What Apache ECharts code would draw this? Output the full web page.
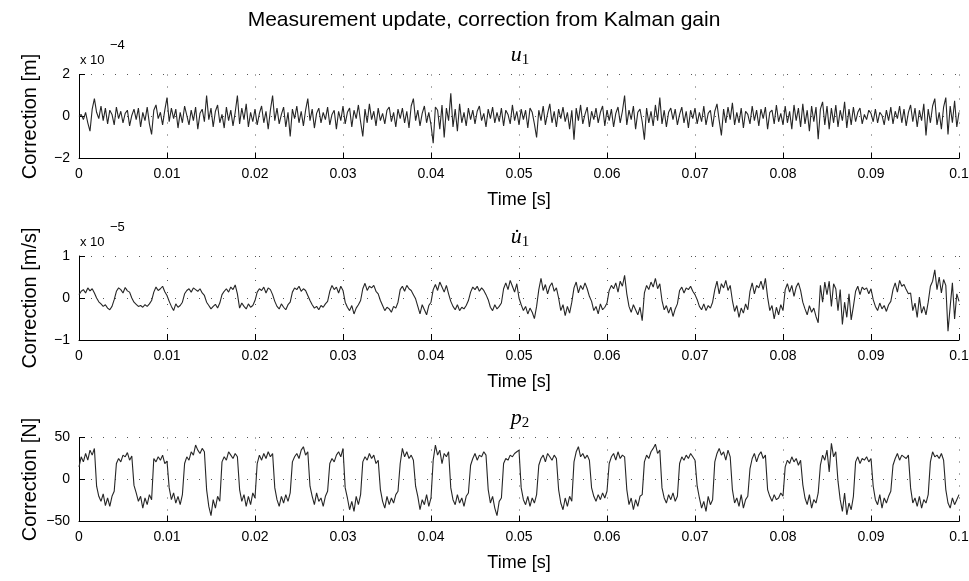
<!DOCTYPE html>
<html><head><meta charset="utf-8">
<script src="https://cdn.jsdelivr.net/npm/echarts/dist/echarts.min.js"></script>
<style>html,body{margin:0;padding:0;background:#fff}#c{width:969px;height:581px}</style>
</head><body><div id="c"></div>
<script>
// sample spacing of the recorded signals [s]
const dt = 0.00025;
const xTickLabels = ['0','0.01','0.02','0.03','0.04','0.05','0.06','0.07','0.08','0.09','0.1'];
const titles = ['Measurement update, correction from Kalman gain'];
const yNames = ['Correction [m]','Correction [m/s]','Correction [N]'];
const exponents = ['\u22124','\u22125',null];

// u1 correction, units of 1e-4 m
const u1 = [
0,0.1,-0.15,0.2,-0.3,-0.7,0.35,0.85,0.2,-0.1,0.5,-0.2,0.4,-0.35,0.3,0.1,-0.4,0.45,-0.1,0.25,
-0.3,0.15,0.3,-0.45,0.05,0.35,-0.15,0.4,-0.5,0.2,-0.2,0.45,-0.35,-0.85,0.3,0.55,-0.1,0.2,-0.4,0.3,
0.9,-0.25,0.4,-0.1,0.35,-0.55,0.2,-0.3,0.5,0.05,-0.4,0.3,-0.2,0.45,-0.6,0.15,0.35,-0.25,1.0,-0.15,
0.4,-0.5,0.25,0.55,-0.3,0.1,-0.55,0.45,-0.2,0.3,-0.45,0.2,1.0,-0.35,0.4,-0.15,0.6,-0.5,0.2,-0.25,
0.35,-0.4,0.15,0.5,-0.3,0.25,-0.6,0.3,1.0,-0.2,0.4,-0.35,0.1,0.45,-0.5,0.2,-0.95,0.35,-0.1,0.5,
-0.3,0.25,-0.45,0.3,0.85,-0.2,0.35,-0.55,0.15,0.4,-0.3,0.2,-0.15,0.45,-0.4,0.1,0.3,-0.6,0.25,-0.2,
0.5,-0.35,0.2,0.4,-0.5,0.3,-0.1,0.55,-0.25,-0.95,0.35,-0.3,0.6,-0.15,0.25,-0.45,0.4,-0.2,0.15,-0.35,
0.3,0.45,-0.25,0.2,-0.5,0.35,-0.1,0.4,-0.3,0.25,-0.55,0.5,0.85,-0.2,0.3,-0.45,0.15,0.5,-0.3,0.2,
-0.4,-1.27,0.45,0.3,-0.6,0.55,-1.0,0.4,-0.2,1.1,-0.5,0.35,-0.7,0.6,-0.3,0.2,-0.45,0.4,-0.15,0.3,
-0.35,0.25,0.5,-0.2,0.15,-0.5,0.35,-0.1,0.45,-0.3,0.2,-0.25,0.4,-0.45,0.3,0.1,-0.35,0.55,-0.2,0.25,
-0.4,0.35,-0.15,0.3,-0.55,0.4,0.2,-0.35,-1.0,0.3,-0.2,0.5,-0.4,0.15,0.6,-0.3,0.25,-0.5,0.35,-0.1,
0.45,-0.25,0.2,-0.6,0.3,-1.1,0.4,-0.2,0.55,-0.35,0.1,0.45,-0.5,0.25,-0.15,0.4,-0.3,0.2,0.5,-0.45,
0.3,-0.2,0.35,-0.5,0.15,0.45,-0.3,0.25,1.0,-0.4,0.3,-0.15,0.5,-0.6,0.2,0.35,-0.25,-1.1,0.4,-0.3,
0.25,-0.45,0.55,-0.2,0.9,-0.35,0.3,-0.5,0.2,0.4,-0.15,0.35,-0.4,0.1,0.45,-0.3,0.25,-0.55,0.3,-0.1,
0.4,-0.35,0.2,-0.25,0.5,-0.4,0.15,0.3,-0.5,0.25,0.6,-0.2,-0.9,0.35,-0.3,0.45,-0.15,0.65,-0.4,0.2,
-0.3,0.4,-0.55,0.25,0.1,-0.35,0.5,-0.2,0.3,-0.45,0.35,-0.1,0.45,-0.6,0.2,0.3,-0.35,0.55,-0.25,0.15,
-0.4,0.5,-0.3,0.25,-0.6,0.55,-0.2,0.4,-0.5,0.6,-0.35,0.3,-0.7,0.5,-0.25,0.45,-1.08,0.35,0.7,-0.4,
0.5,-0.6,0.4,-0.3,0.55,-0.5,0.3,-0.2,0.7,-0.55,0.35,-0.4,0.45,-0.25,0.2,0.4,-0.35,0.1,-0.15,0.3,
0.15,-0.25,0.35,-0.3,0.2,0.05,-0.4,0.3,-0.2,0.45,-0.35,0.25,-0.1,0.5,-0.3,0.35,-0.45,0.2,0.55,-0.25,
0.4,-0.5,0.3,-0.2,0.6,-0.9,0.35,-0.3,0.5,0.85,-0.4,0.2,-0.6,0.45,0.9,-0.85,0.5,-0.3,0.75,-0.5,
0.2];

// u1-dot correction, units of 1e-5 m/s
const u1dot = [
0.08,0.16,0.2,0.12,0.24,0.17,0.22,0.12,
0,-0.09,-0.14,-0.2,-0.16,-0.24,-0.28,-0.2,-0.04,
0.16,0.24,0.2,0.12,0.25,0.17,0.14,0.0,
-0.1,-0.15,-0.2,-0.18,-0.22,-0.16,-0.2,-0.14,-0.06,
0.14,0.26,0.18,0.22,0.28,0.15,0.06,
-0.08,-0.2,-0.3,-0.14,-0.22,-0.18,-0.1,
0.1,0.18,0.22,0.14,0.24,0.2,0.16,0.22,0.12,0.06,
-0.1,-0.18,-0.26,-0.2,-0.15,-0.24,-0.12,
0.08,0.16,0.22,0.14,0.26,0.2,0.31,0.1,
-0.24,-0.12,-0.2,-0.26,-0.14,-0.22,-0.18,-0.06,
0.14,0.22,0.18,0.26,0.12,0.24,0.2,0.08,
-0.08,-0.2,-0.26,-0.14,-0.22,-0.28,-0.16,-0.1,
0.14,0.24,0.2,0.28,0.16,0.22,0.18,0.06,
-0.06,-0.16,-0.24,-0.2,-0.28,-0.18,-0.22,-0.14,-0.08,
0.16,0.3,0.2,0.26,0.12,0.28,0.18,
-0.1,-0.22,-0.3,-0.18,-0.38,-0.24,-0.16,-0.06,
0.22,0.35,0.18,0.28,0.24,0.3,0.16,0.1,
-0.06,-0.18,-0.3,-0.22,-0.26,-0.34,-0.2,-0.24,-0.1,
0.2,0.28,0.16,0.3,0.22,0.18,0.08,
-0.02,-0.2,-0.38,-0.16,-0.28,-0.4,-0.18,-0.1,
0.2,0.32,0.18,0.38,0.26,0.14,0.3,0.1,
-0.08,-0.2,-0.28,-0.16,-0.3,-0.22,-0.26,-0.18,-0.06,
0.14,0.26,0.2,0.28,0.16,0.24,0.18,0.08,
-0.04,-0.22,-0.3,-0.16,-0.26,-0.2,-0.12,
0.22,0.36,0.2,0.42,0.28,0.14,0.34,0.0,
-0.16,-0.3,-0.2,-0.38,-0.24,-0.34,-0.49,-0.2,
0.2,0.47,0.18,0.32,0.1,0.28,0.36,0.16,0.24,
0.0,-0.3,-0.16,-0.42,-0.2,-0.36,-0.1,
0.24,0.38,0.12,0.3,0.2,0.36,0.22,0.04,
-0.08,-0.3,-0.2,-0.38,-0.14,-0.28,-0.22,-0.12,
0.18,0.3,0.22,0.36,0.14,0.4,0.28,0.54,
0.1,-0.2,-0.34,-0.16,-0.28,-0.4,-0.22,-0.54,
0.12,0.3,0.2,0.38,0.26,0.47,0.22,0.34,
-0.06,-0.28,-0.18,-0.36,-0.22,-0.44,-0.26,-0.14,
0.18,0.26,0.12,0.24,0.2,0.28,0.16,0.08,
-0.04,-0.2,-0.28,-0.14,-0.3,-0.18,-0.24,-0.1,
0.2,0.4,0.1,0.34,0.24,0.42,0.18,0.3,
-0.06,-0.32,-0.18,-0.46,-0.24,-0.36,-0.14,-0.28,
0.16,0.36,0.1,0.3,0.24,0.4,0.2,0.47,
0.02,-0.3,-0.18,-0.5,-0.22,-0.4,-0.16,-0.3,
0.2,0.34,0.14,0.3,0.04,0.26,0.36,0.18,
-0.1,-0.26,-0.4,-0.18,-0.34,-0.24,-0.44,-0.59,
0.3,-0.1,0.38,0.08,0.4,-0.2,0.34,0.22,
-0.3,0.2,-0.63,-0.1,-0.46,0.1,-0.52,-0.2,
0.16,0.28,0.08,0.26,0.2,0.24,0.1,0.22,
-0.04,-0.2,-0.3,-0.12,-0.26,-0.18,-0.32,-0.16,-0.08,
0.2,0.36,0.14,0.42,0.28,0.32,0.2,0.1,
0.12,-0.3,-0.12,-0.46,0.02,-0.36,-0.2,-0.4,-0.1,
0.28,0.4,0.67,0.2,0.5,0.12,0.44,
0.3,-0.79,-0.2,0.36,-0.5,0.1,-0.08];

// p2 correction [N]
const p2 = [
15,27,21,31,23,35,29,37,
-8,-20,-26,-17,-31,-22,-32,-20,-14,
19,25,21,29,27,32,23,28,
-7,-16,-26,-20,-34,-22,-30,-18,-24,
25,21,27,23,29,19,22,
-10,-24,-16,-28,-20,-30,-18,
19,27,23,33,29,41,35,31,37,33,
-12,-32,-43,-24,-34,-20,-26,
21,27,23,33,29,25,31,27,
-12,-26,-18,-32,-20,-30,-16,-22,
19,29,23,31,25,33,27,31,
-10,-24,-32,-20,-28,-18,-26,-16,
21,27,31,25,35,39,29,33,
-8,-20,-30,-16,-26,-22,-32,-20,-14,
19,25,21,29,33,27,37,
-10,-22,-36,-26,-38,-20,-30,-18,
21,27,23,31,25,29,19,23,
-12,-26,-34,-20,-30,-22,-28,-18,-14,
19,37,27,33,25,29,23,
-8,-20,-36,-24,-30,-18,-32,-22,
23,41,29,35,19,31,27,33,
-10,-24,-30,-18,-28,-22,-32,-20,-16,
17,25,31,23,29,27,33,29,
-12,-28,-20,-34,-43,-26,-22,
19,25,23,29,27,31,33,35,
-10,-24,-30,-20,-32,-22,-28,-18,
17,25,29,21,31,27,23,29,25,
-12,-28,-36,-22,-32,-20,-26,
21,33,39,27,31,25,29,23,
-10,-20,-26,-18,-24,-16,-22,-14,
19,27,31,23,33,25,29,27,
-12,-30,-22,-36,-24,-32,-20,-18,
21,29,25,33,37,42,31,35,
-10,-22,-28,-18,-24,-16,-26,-20,
19,27,23,29,25,31,27,23,
-8,-22,-34,-26,-38,-20,-30,-24,
21,31,37,29,33,23,35,27,
-12,-28,-22,-32,-18,-34,-24,-20,
13,25,31,21,29,33,25,29,
-12,-20,-26,-18,-24,-22,-16,-20,
15,23,19,27,21,25,17,23,
-6,-22,-30,-18,-34,-24,-28,-16,
17,29,23,35,9,43,27,33,
-2,-24,-38,-16,-42,-28,-36,-20,
21,27,19,25,23,27,21,25,
-8,-24,-30,-18,-34,-22,-28,-20,-14,
17,25,31,23,29,27,25,29,
-10,-28,-22,-32,-20,-34,-24,-28,-18,
21,33,27,29,25,31,23,
-12,-28,-34,-22,-30,-24,-18];

const yRanges = [[-2,2,2],[-1,1,1],[-50,50,50]];
const seriesVals = [u1, u1dot, p2];

const FONT = 'Liberation Sans, Arial, Helvetica, sans-serif';
const tops = [74.5, 256, 437.5];
const H = 84, LEFT = 79, W = 880;

const chart = echarts.init(document.getElementById('c'), null, {renderer:'canvas'});
const grids = [], xAxes = [], yAxes = [], series = [];
const dotted = {color:'#555', width:1, type:[1,11]};
for (let g = 0; g < 3; g++) {
  grids.push({left:LEFT, top:tops[g], width:W, height:H, containLabel:false, outerBoundsMode:'none'});
  xAxes.push({type:'value', gridIndex:g, min:0, max:0.1, interval:0.01,
    axisLine:{show:true, onZero:false, lineStyle:{color:'#000', width:1}},
    axisTick:{show:true, inside:true, length:6, lineStyle:{color:'#000', width:1}},
    axisLabel:{color:'#000', fontSize:14, fontFamily:FONT, margin:9,
      formatter:(v)=> xTickLabels[Math.round(v/0.01)]},
    splitLine:{show:true, lineStyle:dotted}});
  const r = yRanges[g];
  yAxes.push({type:'value', gridIndex:g, min:r[0], max:r[1], interval:r[2],
    axisLine:{show:true, onZero:false, lineStyle:{color:'#000', width:1}},
    axisTick:{show:true, inside:true, length:6, lineStyle:{color:'#000', width:1}},
    axisLabel:{color:'#000', fontSize:14, fontFamily:FONT, margin:9,
      formatter:(v)=> String(v).replace('-', '\u2212')},
    splitLine:{show:true, lineStyle:dotted}});
  series.push({type:'line', xAxisIndex:g, yAxisIndex:g, showSymbol:false, silent:true,
    data: seriesVals[g].map((v,i)=>[i*dt, v]),
    lineStyle:{color:'#262626', width:1.1}, animation:false});
}

const graphics = [];
graphics.push({type:'text', x:484, y:20, style:{text:titles[0], font:'21px '+FONT, fill:'#000', align:'center', verticalAlign:'middle'}});
const subTitles = ['{i|u}{s|1}', '{i|u\u0307}{s|1}', '{i|p}{s|2}'];
const subY = [55, 237, 418];
for (let g = 0; g < 3; g++) {
  const cy = tops[g] + H/2;
  graphics.push({type:'text', x:30, y:cy, rotation:Math.PI/2,
    style:{text:yNames[g], font:'20px '+FONT, fill:'#000', align:'center', verticalAlign:'middle'}});
  graphics.push({type:'text', x:LEFT + W/2, y:tops[g] + H + 42,
    style:{text:'Time [s]', font:'18px '+FONT, fill:'#000', align:'center', verticalAlign:'middle'}});
  graphics.push({type:'text', x:520, y:subY[g],
    style:{text:subTitles[g], align:'center', verticalAlign:'middle', fill:'#000',
      rich:{i:{fontFamily:'Liberation Serif', fontStyle:'italic', fontSize:22, fill:'#000'},
            s:{fontFamily:'Liberation Serif', fontSize:15, fill:'#000', padding:[11,0,0,0]}}}});
  if (exponents[g]) {
    graphics.push({type:'text', x:80, y:tops[g] - 14,
      style:{text:'x 10', font:'13px '+FONT, fill:'#000', align:'left', verticalAlign:'middle'}});
    graphics.push({type:'text', x:110, y:tops[g] - 29,
      style:{text:exponents[g], font:'13px '+FONT, fill:'#000', align:'left', verticalAlign:'middle'}});
  }
}

chart.setOption({
  animation:false,
  backgroundColor:'#fff',
  grid:grids, xAxis:xAxes, yAxis:yAxes, series:series,
  graphic:graphics
});
</script>
</body></html>
